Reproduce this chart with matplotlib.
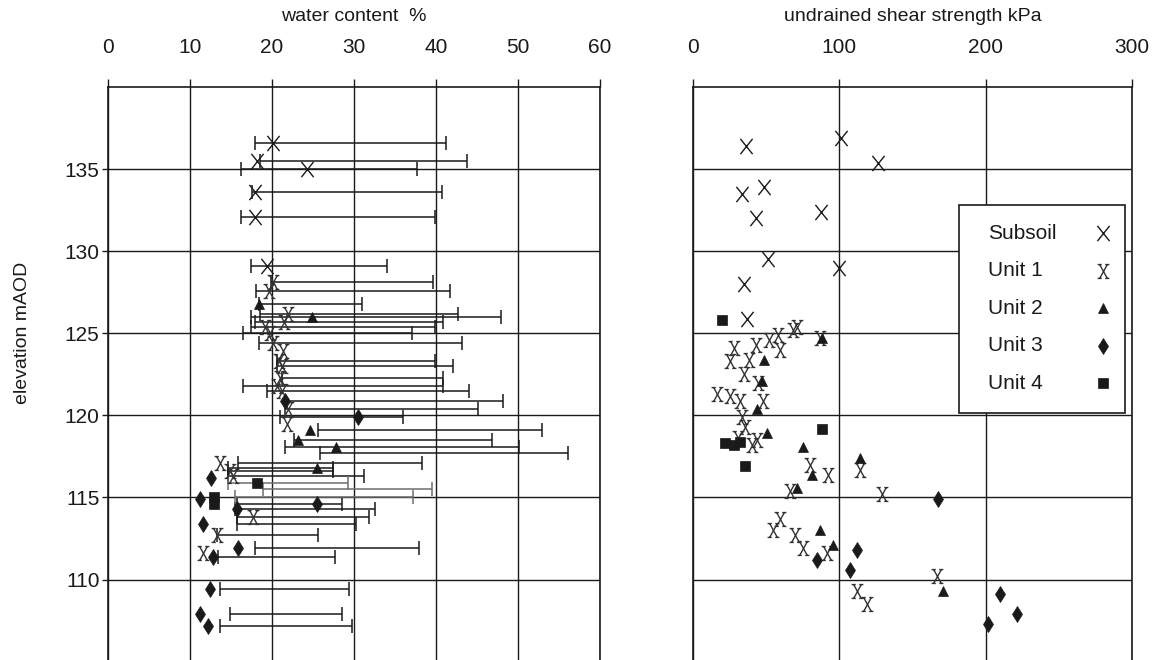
import numpy as np
import matplotlib
matplotlib.use("Agg")
import matplotlib.pyplot as plt
from matplotlib.path import Path
from matplotlib.patches import Rectangle

plt.rcParams["font.family"] = ["Liberation Sans", "DejaVu Sans"]

# ------------------------------------------------------
# water content (left panel): elevation, natural w, PL, LL, unit
# ------------------------------------------------------
wc_elev = [136.6, 135.5, 135.0, 133.6, 132.1, 129.1,
           128.1, 127.6, 126.2, 125.7, 125.4, 125.0, 124.4, 123.9, 123.3, 123.0,
           122.3, 121.8, 121.5, 120.4, 119.5, 117.1, 116.6, 116.3, 113.8, 112.7, 111.6,
           126.8, 126.0, 119.1, 118.5, 118.1, 117.7, 116.8,
           120.9, 119.9, 116.2, 114.9, 114.6, 114.3, 113.4, 111.9, 111.4, 109.4, 107.9, 107.2,
           115.9, 115.5, 115.0, 114.6]
wc_val = [20.1, 18.2, 24.3, 17.9, 17.9, 19.4,
          20.2, 19.6, 22.0, 21.5, 19.2, 19.8, 20.2, 21.4, 20.9, 21.3,
          21.0, 20.6, 21.2, 22.0, 21.8, 13.7, 14.9, 15.3, 17.7, 13.3, 11.6,
          18.4, 24.9, 24.6, 23.2, 27.8, np.nan, 25.5,
          21.6, 30.5, 12.6, 11.2, 25.5, 15.7, 11.6, 15.9, 12.8, 12.4, 11.2, 12.2,
          18.2, np.nan, 13.0, 13.0]
wc_pl = [17.9, 18.6, 16.3, 17.6, 16.3, 17.5,
         19.9, 18.1, 18.5, 18.0, 17.5, 16.5, 18.4, np.nan, 20.6, 20.6,
         21.2, 16.5, 19.4, 21.6, np.nan, 15.9, 14.6, 14.6, 15.7, 13.3, np.nan,
         18.4, 17.5, 25.6, 22.7, 21.6, 25.9, 14.6,
         21.6, 21.0, np.nan, np.nan, 15.7, 15.5, 15.7, 17.9, 13.4, 13.7, 14.9, 13.7,
         14.6, 18.9, 15.5, np.nan]
wc_ll = [41.3, 43.8, 37.7, 40.7, 39.9, 34.0,
         39.7, 41.7, 42.7, 40.9, 39.9, 37.1, 43.2, np.nan, 39.9, 42.1,
         40.9, 40.9, 44.1, 45.1, np.nan, 38.3, 27.5, 31.3, 31.9, 25.6, np.nan,
         31.0, 48.0, 53.0, 46.8, 50.2, 56.1, 27.5,
         48.2, 36.0, np.nan, np.nan, 28.5, 32.6, 30.3, 38.0, 27.7, 29.4, 28.5, 29.8,
         29.3, 39.6, 37.2, np.nan]
wc_unit = ["S"] * 6 + ["1"] * 21 + ["2"] * 7 + ["3"] * 12 + ["4"] * 4

# ------------------------------------------------------
# undrained shear strength (right panel)
# ------------------------------------------------------
su_subsoil = [36.8, 101.6, 126.8, 34.1, 48.6, 43.6, 87.9, 51.8, 100.2, 35.4, 37.5]
el_subsoil = [136.4, 136.9, 135.4, 133.5, 133.9, 132.0, 132.4, 129.5, 129.0, 128.0, 125.9]

su_unit1 = [28, 43, 58, 71.6, 60, 25.9, 38.2, 34.8, 17, 25.9, 32.7, 48.4, 34, 30.7, 40.9,
            87.3, 68.8, 52, 45, 36, 44, 80.4, 92.7, 114.5, 66.8, 129.5, 60, 55.2, 70.2,
            75.7, 92, 112.5, 119.3, 167]
el_unit1 = [124.1, 124.3, 124.9, 125.4, 124.0, 123.3, 123.4, 122.5, 121.3, 121.2, 120.9,
            120.9, 119.9, 118.6, 118.2, 124.7, 125.2, 124.6, 122.0, 119.3, 118.5, 117.0,
            116.4, 116.7, 115.4, 115.2, 113.7, 113.0, 112.7, 111.9, 111.6, 109.3, 108.5,
            110.2]

su_unit2 = [49, 47.7, 44.3, 51, 75.7, 114.5, 81.8, 71.6, 87.3, 96.1, 171, 88.6]
el_unit2 = [123.4, 122.1, 120.4, 118.9, 118.1, 117.4, 116.4, 115.6, 113.0, 112.1, 109.3, 124.7]

su_unit3 = [167.7, 112.5, 85.2, 107.7, 210, 221.5, 201.8]
el_unit3 = [114.9, 111.8, 111.2, 110.6, 109.1, 107.9, 107.3]

su_unit4 = [19.8, 88.6, 28, 32.7, 36.1, 22]
el_unit4 = [125.8, 119.2, 118.2, 118.4, 116.9, 118.3]

legend_labels = ["Subsoil", "Unit 1", "Unit 2", "Unit 3", "Unit 4"]

elev_ticks = [110, 115, 120, 125, 130, 135]
wc_ticks = [0, 10, 20, 30, 40, 50, 60]
su_ticks = [0, 100, 200, 300]

INK = "#1a1a1a"

# marker shapes: plain X for subsoil, serif X for unit 1
X_SANS = Path([(-0.8, -1), (0.8, 1), (-0.8, 1), (0.8, -1)],
              [Path.MOVETO, Path.LINETO, Path.MOVETO, Path.LINETO])
X_SERIF = Path([(-0.55, -1), (0.55, 1), (-0.55, 1), (0.55, -1),
                (-0.85, 1), (-0.25, 1), (0.25, 1), (0.85, 1),
                (-0.85, -1), (-0.25, -1), (0.25, -1), (0.85, -1)],
               [Path.MOVETO, Path.LINETO] * 6)

STYLE = {
    "S": dict(marker=X_SANS, ms=11, mfc="none", mec=INK, mew=1.0),
    "1": dict(marker=X_SERIF, ms=10, mfc="none", mec="#333333", mew=1.0),
    "2": dict(marker="^", ms=7, mfc=INK, mec=INK, mew=0.5),
    "3": dict(marker="d", ms=8, mfc=INK, mec=INK, mew=0.5),
    "4": dict(marker="s", ms=7, mfc=INK, mec=INK, mew=0.5),
}


def style_axes(ax, xticks, xlim):
    ax.set_xlim(*xlim)
    ax.set_ylim(105.1, 140)
    ax.set_xticks(xticks)
    ax.set_yticks(elev_ticks)
    ax.xaxis.tick_top()
    ax.xaxis.set_label_position("top")
    ax.grid(True, color=INK, linewidth=1.0)
    ax.set_axisbelow(True)
    for side in ["top", "left", "right"]:
        ax.spines[side].set_color(INK)
        ax.spines[side].set_linewidth(1.2)
    ax.spines["bottom"].set_visible(False)
    ax.tick_params(axis="x", direction="out", length=6, width=1.0, pad=16,
                   labelsize=15, colors=INK)
    ax.tick_params(axis="y", direction="out", length=4, width=1.0, pad=2,
                   labelsize=15, colors=INK)


fig = plt.figure(figsize=(11.6, 6.6), dpi=100)
axL = fig.add_axes([0.093, 0.0, 0.424, 0.868])
axR = fig.add_axes([0.597, 0.0, 0.379, 0.868])

# ---------------- left: water content ----------------
style_axes(axL, wc_ticks, (0, 60))
axL.set_xlabel("water content  %", fontsize=14, labelpad=12, color=INK)

elev = np.array(wc_elev)
wv = np.array(wc_val)
pl = np.array(wc_pl)
ll = np.array(wc_ll)
units = np.array(wc_unit)

has_bar = ~np.isnan(pl)
for u in ["S", "1", "2", "3", "4"]:
    m = has_bar & (units == u)
    col = "#6e6e6e" if u == "4" else INK
    axL.errorbar((pl[m] + ll[m]) / 2, elev[m], xerr=(ll[m] - pl[m]) / 2,
                 fmt="none", ecolor=col, elinewidth=1.1, capsize=5, capthick=1.1,
                 zorder=3)
for u in ["S", "1", "2", "3", "4"]:
    m = (units == u) & ~np.isnan(wv)
    axL.plot(wv[m], elev[m], linestyle="none", zorder=4, **STYLE[u])

# ---------------- right: shear strength ----------------
style_axes(axR, su_ticks, (0, 300))
axR.tick_params(axis="y", length=0, labelleft=False)
axR.set_xlabel("undrained shear strength kPa", fontsize=14, labelpad=12, color=INK)

series = [("S", su_subsoil, el_subsoil),
          ("1", su_unit1, el_unit1),
          ("2", su_unit2, el_unit2),
          ("3", su_unit3, el_unit3),
          ("4", su_unit4, el_unit4)]
for u, su, el in series:
    axR.plot(su, el, linestyle="none", zorder=4, **STYLE[u])

# legend box drawn by hand: text left aligned, symbol on the right
box = Rectangle((0.605, 0.431), 0.379, 0.363, transform=axR.transAxes,
                facecolor="white", edgecolor=INK, linewidth=1.2, zorder=10)
axR.add_patch(box)
row_y = np.linspace(0.745, 0.483, len(legend_labels))
for (u, _, _), label, yy in zip(series, legend_labels, row_y):
    axR.text(0.673, yy, label, transform=axR.transAxes, fontsize=15,
             va="center", ha="left", color=INK, zorder=11)
    axR.plot([0.934], [yy], transform=axR.transAxes, linestyle="none",
             zorder=11, clip_on=False, **STYLE[u])

fig.text(0.019, 1 - 333 / 660, "elevation mAOD", rotation=90, ha="center",
         va="center", fontsize=14, color=INK)

fig.savefig("out.png", dpi=100)
